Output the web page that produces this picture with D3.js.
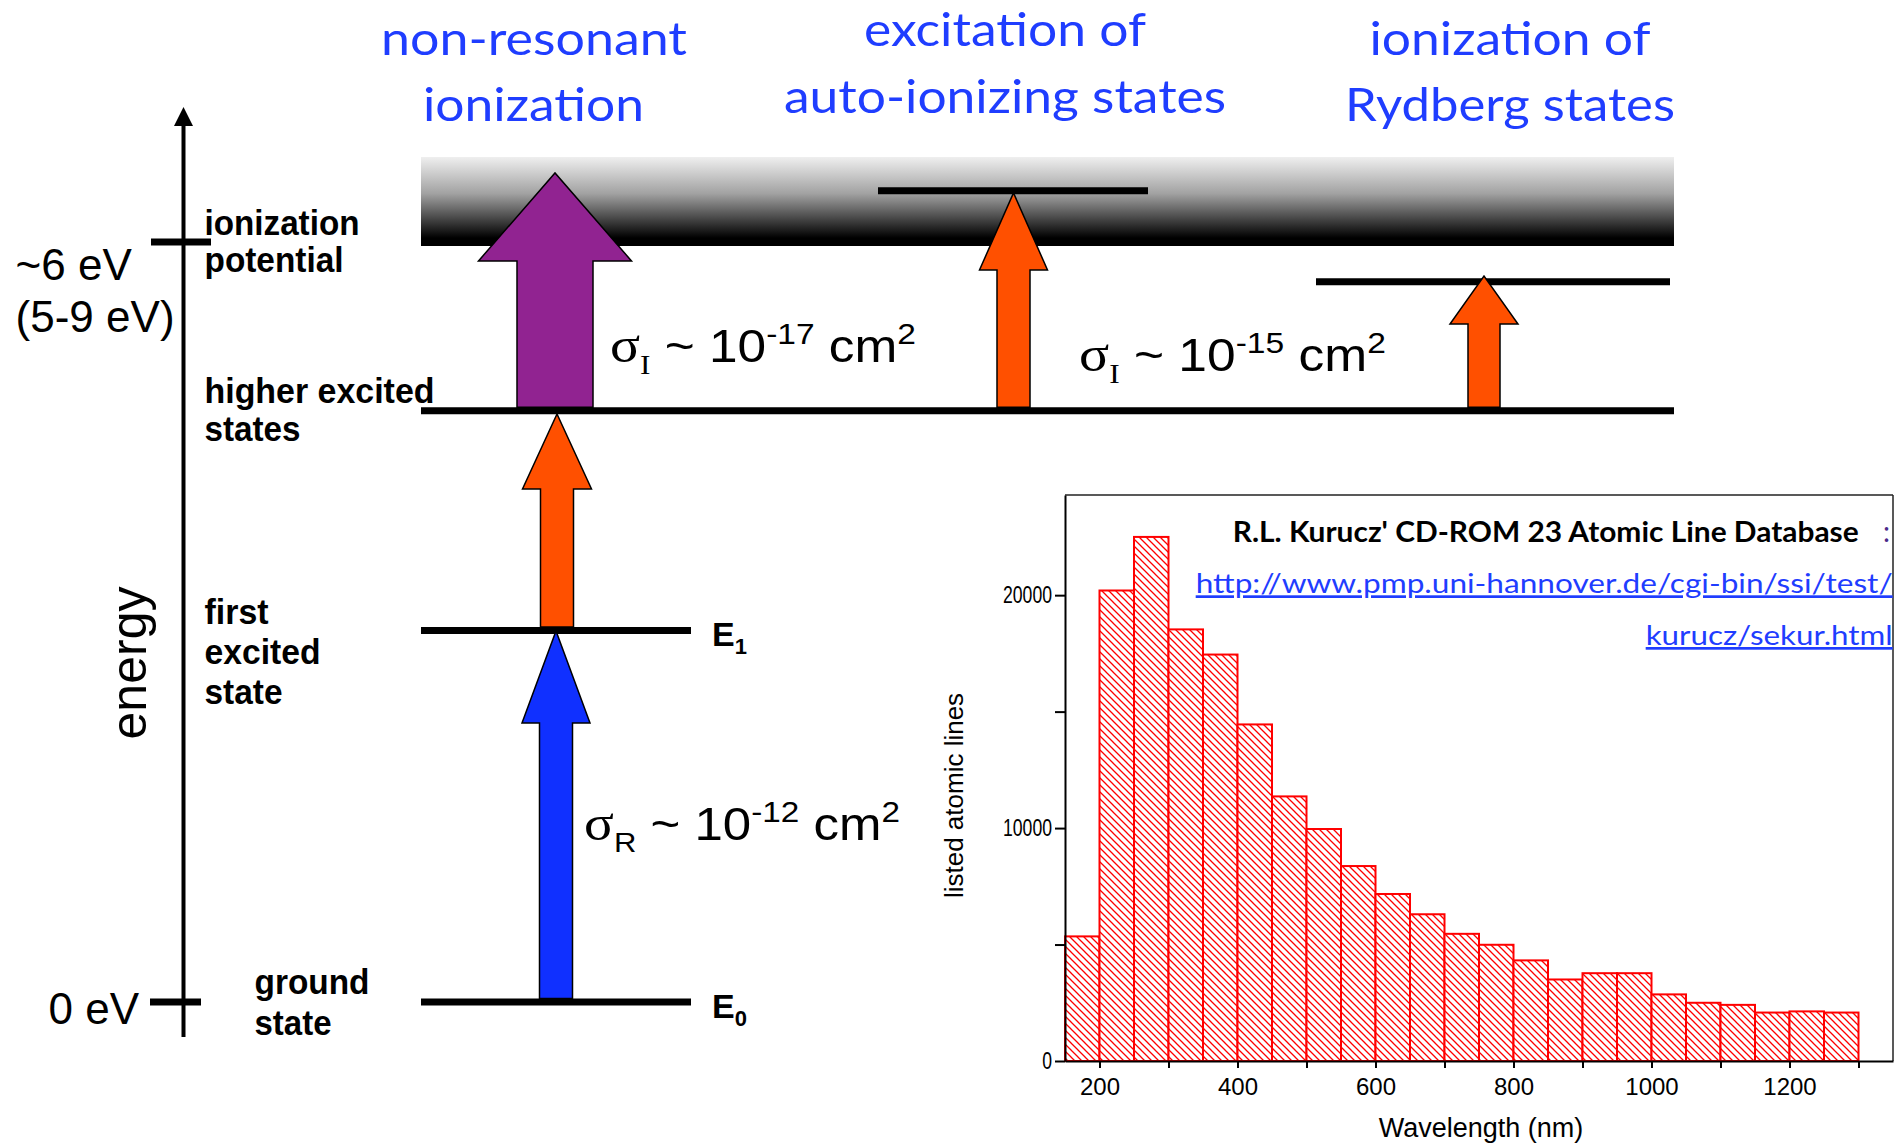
<!DOCTYPE html>
<html><head><meta charset="utf-8">
<script src="https://cdn.jsdelivr.net/npm/d3@7"></script>
<style>body{margin:0;background:#fff;} svg{display:block}</style>
</head><body>
<svg id="c" width="1895" height="1144"></svg>
<script>
// ---------------- Histogram data (Kurucz atomic line database) ----------------
const binStarts = [150,200,250,300,350,400,450,500,550,600,650,700,750,800,850,900,950,1000,1050,1100,1150,1200,1250];
const binWidth = 50;
const lineCounts = [5350,20200,22500,18530,17450,14450,11360,9960,8370,7170,6300,5460,4990,4320,3500,3770,3770,2860,2500,2410,2080,2130,2080];
const xTickValues = [200,300,400,500,600,700,800,900,1000,1100,1200,1300];
const xTickLabels = [200,400,600,800,1000,1200];
const yTickValues = [0,5000,10000,15000,20000];
const yTickLabels = [0,10000,20000];

// ---------------- Energy level diagram data (schematic, eV) ----------------
const levelNames    = ["ground","first excited","higher excited","ionization potential","Rydberg","auto-ionizing"];
const levelEnergies = [0, 2.933, 4.668, 6.0, 5.687, 6.405];
const arrowFrom     = [0, 2.933, 4.668, 4.668, 4.668];
const arrowTip      = [2.929, 4.642, 6.545, 6.387, 5.731];
const arrowColors   = ["#1030ff","#ff5000","#912391","#ff5000","#ff5000"];
const titleLines    = [["non-resonant","ionization"],["excitation of","auto-ionizing states"],["ionization of","Rydberg states"]];

const svg = d3.select("#c");
const defs = svg.append("defs");
const grad = defs.append("linearGradient").attr("id","band").attr("x1",0).attr("y1",0).attr("x2",0).attr("y2",1);
grad.append("stop").attr("offset","0%").attr("stop-color","#efefef");
grad.append("stop").attr("offset","45%").attr("stop-color","#a2a2a2");
grad.append("stop").attr("offset","100%").attr("stop-color","#000");
const HP = 7;
const pat = defs.append("pattern").attr("id","hatch").attr("patternUnits","userSpaceOnUse").attr("width",HP).attr("height",HP);
pat.append("rect").attr("width",HP).attr("height",HP).attr("fill","#fff");
pat.append("path").attr("d",`M0,0L${HP},${HP}M-1,${HP-1}L1,${HP+1}M${HP-1},-1L${HP+1},1`).attr("stroke","#ff0000").attr("stroke-width",1.3);

// ================= Energy diagram =================
const yE = d3.scaleLinear().domain([0,6]).range([1002,242]);
const SANS = "'Liberation Sans', Arial, sans-serif";
const SERIF = "'Liberation Serif', 'Times New Roman', serif";
const LATO = "Lato, 'Open Sans', sans-serif";

// ionization continuum band
svg.append("rect").attr("x",421).attr("width",1253).attr("y",yE(6.671)).attr("height",yE(6)-yE(6.671)-4).attr("fill","url(#band)");
svg.append("rect").attr("x",421).attr("width",1253).attr("y",yE(6)-4).attr("height",8).attr("fill","#000");

// level lines
const levelX = [[421,691],[421,691],[421,1674],null,[1316,1670],[878,1148]];
levelEnergies.forEach((e,i)=>{
  if(!levelX[i]) return;
  svg.append("line").attr("x1",levelX[i][0]).attr("x2",levelX[i][1]).attr("y1",yE(e)).attr("y2",yE(e))
    .attr("stroke","#000").attr("stroke-width",7);
});

// arrows
const arrowCx = [556,557,555,1013.5,1484];
const shaftW = [33,33,76,33,32];
const headW = [68,69,153,68,68];
const headLen = [92,75,88,77,48];
arrowFrom.forEach((f,i)=>{
  const cx=arrowCx[i], sw=shaftW[i]/2, hw=headW[i]/2;
  const yb = yE(f)-3.5, yt = yE(arrowTip[i]), yh = yt+headLen[i];
  const p = `M${cx-sw},${yb}L${cx-sw},${yh}L${cx-hw},${yh}L${cx},${yt}L${cx+hw},${yh}L${cx+sw},${yh}L${cx+sw},${yb}Z`;
  svg.append("path").attr("d",p).attr("fill",arrowColors[i]).attr("stroke","#000").attr("stroke-width",1.5).attr("stroke-linejoin","miter");
});

// energy axis
svg.append("line").attr("x1",183.5).attr("x2",183.5).attr("y1",yE(-0.276)).attr("y2",yE(7.066)+16).attr("stroke","#000").attr("stroke-width",4);
svg.append("path").attr("d",`M174,${yE(7.066)+19}L183.5,${yE(7.066)}L193,${yE(7.066)+19}Z`).attr("fill","#000");
svg.append("line").attr("x1",151).attr("x2",211).attr("y1",yE(6)).attr("y2",yE(6)).attr("stroke","#000").attr("stroke-width",7);
svg.append("line").attr("x1",150).attr("x2",201).attr("y1",yE(0)).attr("y2",yE(0)).attr("stroke","#000").attr("stroke-width",7);

function txt(x,y,s,opts){
  const t = svg.append("text").attr("x",x).attr("y",y).text(s)
    .attr("font-family",opts.f||SANS).attr("font-size",opts.s||32).attr("fill",opts.c||"#000")
    .attr("font-weight",opts.w||"normal").attr("text-anchor",opts.a||"start");
  if(opts.tl) t.attr("textLength",opts.tl).attr("lengthAdjust","spacingAndGlyphs");
  return t;
}
txt(15.6,280,"~6 eV",{s:44});
txt(15.6,332,"(5-9 eV)",{s:44});
txt(48.5,1024,"0 eV",{s:44});
svg.append("text").attr("transform","translate(146,663) rotate(-90)").attr("text-anchor","middle")
  .attr("font-family",SANS).attr("font-size",50).text("energy");

const bl = (x,y,s,w)=>txt(x,y,s,{w:"bold",s:35,tl:w});
bl(204.5,235,"ionization",155); bl(204.5,272,"potential",139);
bl(204.5,403,"higher excited",230); bl(204.5,441,"states",96);
bl(204.5,624,"first",64); bl(204.5,664,"excited",116); bl(204.5,704,"state",78);
bl(254.5,994,"ground",115); bl(254.5,1035,"state",77);

// E labels
[[0,"0"],[2.933,"1"]].forEach(([e,s])=>{
  const t = svg.append("text").attr("x",712).attr("y",yE(e)+16).attr("font-family",SANS).attr("font-weight","bold").attr("font-size",34);
  t.append("tspan").text("E");
  t.append("tspan").attr("font-size",22).attr("dy",8).text(s);
});

// sigma expressions
function sigmaText(x, base, sub, subFont, exp, targetW){
  const g = svg.append("g").attr("transform",`translate(${x},${base})`);
  const t = g.append("text").style("white-space","pre").attr("fill","#000").attr("font-family",SANS);
  t.append("tspan").attr("font-family",SERIF).attr("font-size",50).text("σ");
  t.append("tspan").attr("font-family",subFont).attr("font-size",28).attr("dy",12).text(sub);
  t.append("tspan").attr("font-size",46).attr("dy",-12).text(" ~ 10");
  t.append("tspan").attr("font-size",30).attr("dy",-18).text(exp);
  t.append("tspan").attr("font-size",46).attr("dy",18).text(" cm");
  t.append("tspan").attr("font-size",30).attr("dy",-18).text("2");
  const w = t.node().getBBox().width;
  t.attr("transform",`scale(${targetW/w},1)`);
}
sigmaText(610,362,"I",SERIF,"-17",306);
sigmaText(1079,371,"I",SERIF,"-15",307);
sigmaText(584,840,"R",SANS,"-12",316);

// blue titles
const titlePos = [[[534,55,306],[533.5,121,221]],[[1005,46,282],[1005,113,442]],[[1510,55,281],[1510,121,330]]];
titleLines.forEach((lines,i)=>lines.forEach((s,j)=>{
  const [cx,by,w] = titlePos[i][j];
  txt(cx,by,s,{f:LATO,s:46,c:"#1f3dff",a:"middle",tl:w});
}));

// ================= Histogram =================
const x = d3.scaleLinear().domain([150,1350]).range([1065,1893]);
const y = d3.scaleLinear().domain([0,24300]).range([1061,495]);

const hg = svg.append("g");
hg.selectAll("rect.bar").data(binStarts).join("rect").attr("class","bar")
  .attr("x",d=>x(d)).attr("width",d=>x(d+binWidth)-x(d))
  .attr("y",(d,i)=>y(lineCounts[i])).attr("height",(d,i)=>y(0)-y(lineCounts[i]))
  .attr("fill","url(#hatch)").attr("stroke","#ff0000").attr("stroke-width",2);

// frame top / right
svg.append("line").attr("x1",x(150)).attr("x2",x(1350)).attr("y1",y(24300)).attr("y2",y(24300)).attr("stroke","#222").attr("stroke-width",1.5);
svg.append("line").attr("x1",x(1350)).attr("x2",x(1350)).attr("y1",y(24300)).attr("y2",y(0)).attr("stroke","#222").attr("stroke-width",1.5);

const xl = new Set(xTickLabels), yl = new Set(yTickLabels);
const gx = svg.append("g").attr("transform",`translate(0,${y(0)})`)
  .call(d3.axisBottom(x).tickValues(xTickValues).tickSize(7).tickSizeOuter(0).tickPadding(10).tickFormat(d=>xl.has(d)?d:""));
const gy = svg.append("g").attr("transform",`translate(${x(150)},0)`)
  .call(d3.axisLeft(y).tickValues(yTickValues).tickSize(10).tickSizeOuter(0).tickPadding(3).tickFormat(d=>yl.has(d)?d:""));
[gx,gy].forEach(g=>{
  g.select(".domain").attr("stroke","#000").attr("stroke-width",2);
  g.selectAll(".tick line").attr("stroke","#000").attr("stroke-width",2);
  g.selectAll("text").attr("font-family",SANS).attr("fill","#000");
});
gx.selectAll("text").attr("font-size",24);
gy.selectAll("text").attr("font-size",24).each(function(d){
  const s = this.textContent; if(s) d3.select(this).attr("textLength",s.length*9.8).attr("lengthAdjust","spacingAndGlyphs");
});

svg.append("text").attr("transform","translate(963,795.5) rotate(-90)").attr("text-anchor","middle")
  .attr("font-family",SANS).attr("font-size",26).text("listed atomic lines");
txt(1481,1137,"Wavelength (nm)",{s:27,a:"middle"});

// database title & link
txt(1858.7,541.7,"R.L. Kurucz' CD-ROM 23 Atomic Line Database",{f:LATO,s:29,w:"bold",a:"end",tl:626});
txt(1883,541.7,":",{f:LATO,s:28,c:"#4b2a8a"});
txt(1892.7,593.3,"http://www.pmp.uni-hannover.de/cgi-bin/ssi/test/",{f:LATO,s:27,c:"#1f3dff",a:"end",tl:697}).style("text-decoration","underline");
txt(1892.7,645,"kurucz/sekur.html",{f:LATO,s:27,c:"#1f3dff",a:"end",tl:247}).style("text-decoration","underline");
</script>
</body></html>
